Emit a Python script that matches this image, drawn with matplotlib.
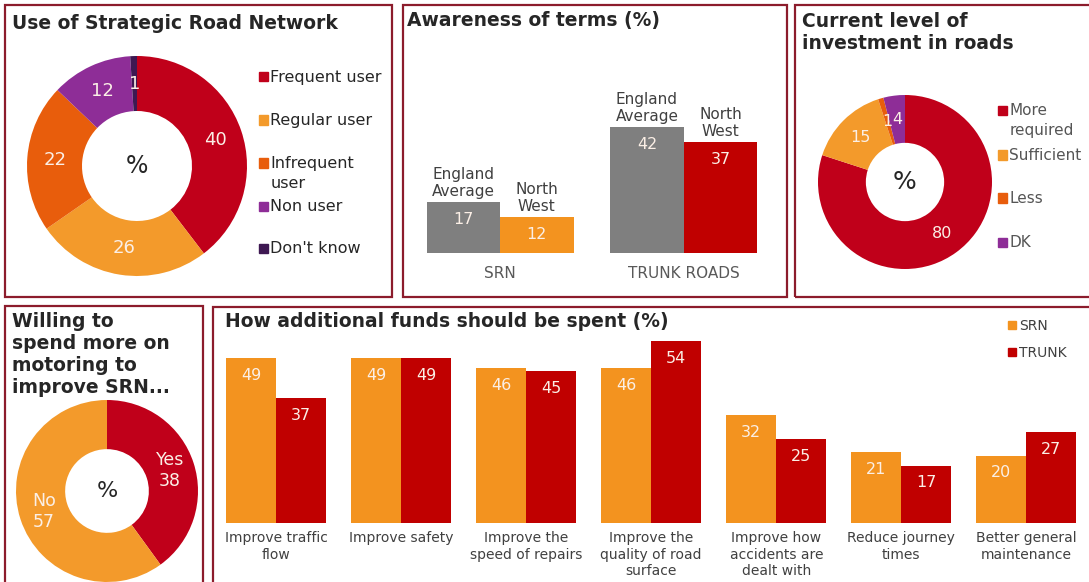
import matplotlib.pyplot as plt
import numpy as np
from matplotlib.patches import Rectangle

# canvas size in pixels (dpi 100)
W, H = 1089, 582

# Use of Strategic Road Network
use_labels = ["Frequent user", "Regular user", "Infrequent\nuser", "Non user", "Don't know"]
use_values = [40, 26, 22, 12, 1]

# Awareness of terms (%)
aware_groups = ["SRN", "TRUNK ROADS"]
aware_series = ["England\nAverage", "North\nWest"]
aware_england = [17, 42]
aware_northwest = [12, 37]

# Current level of investment in roads
invest_labels = ["More\nrequired", "Sufficient", "Less", "DK"]
invest_values = [80, 15, 1, 4]

# Willing to spend more on motoring
willing_labels = ["Yes", "No"]
willing_values = [38, 57]

# How additional funds should be spent (%)
fund_categories = [
    "Improve traffic\nflow",
    "Improve safety",
    "Improve the\nspeed of repairs",
    "Improve the\nquality of road\nsurface",
    "Improve how\naccidents are\ndealt with",
    "Reduce journey\ntimes",
    "Better general\nmaintenance",
]
fund_series = ["SRN", "TRUNK"]
fund_srn = [49, 49, 46, 46, 32, 21, 20]
fund_trunk = [37, 49, 45, 54, 25, 17, 27]

RED = "#C0001A"
ORANGE = "#F39A2B"
DARK_ORANGE = "#E85D0C"
PURPLE = "#8E2D97"
DARK_PURPLE = "#3E1852"
GREY = "#7F7F7F"
BAR_ORANGE = "#F3931F"
BAR_RED = "#C00000"
BORDER = "#8C1C2C"
TEXT = "#262626"
LABEL = "#FBEFE6"

plt.rcParams["font.family"] = "DejaVu Sans"

fig = plt.figure(figsize=(W / 100, H / 100), dpi=100)


def axes_px(left, top, right, bottom):
    return fig.add_axes([left / W, 1 - bottom / H, (right - left) / W, (bottom - top) / H])


def panel(left, top, right, bottom):
    fig.patches.append(Rectangle((left / W, 1 - bottom / H), (right - left) / W,
                                 (bottom - top) / H, transform=fig.transFigure,
                                 fill=False, edgecolor=BORDER, linewidth=1.6))


def lines_px(x, y, text, step, **kw):
    # one text per line so the first baseline sits at y
    for i, line in enumerate(text.split("\n")):
        fig.text(x / W, 1 - (y + i * step) / H, line, ha="left", va="baseline", **kw)


def title(x, y, text, size=13.5):
    lines_px(x, y, text, 22, fontsize=size, fontweight="bold", color=TEXT)


def square_legend(x, ys, labels, colors, fontsize, color=TEXT, size=9, step=20):
    for y, lab, c in zip(ys, labels, colors):
        fig.patches.append(Rectangle(((x - size / 2) / W, 1 - (y + size / 2) / H),
                                     size / W, size / H, transform=fig.transFigure,
                                     color=c))
        lines_px(x + size / 2 + 3, y + 5, lab, step, fontsize=fontsize, color=color)


def donut(cx, cy, r, values, colors, hole, pct_size):
    pad = 1.02
    ax = axes_px(cx - r * pad, cy - r * pad, cx + r * pad, cy + r * pad)
    wedges, _ = ax.pie(values, colors=colors, startangle=90, counterclock=False,
                       radius=1, wedgeprops=dict(width=1 - hole, linewidth=0))
    ax.set_xlim(-pad, pad)
    ax.set_ylim(-pad, pad)
    ax.text(0, 0, "%", ha="center", va="center", fontsize=pct_size, color=TEXT)
    return ax, wedges


def wedge_labels(ax, wedges, texts, hole, size):
    rmid = (1 + hole) / 2
    for w, t in zip(wedges, texts):
        ang = np.deg2rad((w.theta1 + w.theta2) / 2)
        ax.text(rmid * np.cos(ang), rmid * np.sin(ang), t, ha="center", va="center",
                fontsize=size, color=LABEL, linespacing=1.2)


# --- Use of Strategic Road Network ---
panel(5, 5, 392, 297)
title(12, 29, "Use of Strategic Road Network")
use_colors = [RED, ORANGE, DARK_ORANGE, PURPLE, DARK_PURPLE]
ax1, w1 = donut(137, 166, 110, use_values, use_colors, 0.5, 17)
wedge_labels(ax1, w1, [str(v) for v in use_values], 0.5, 13)
square_legend(263, [77, 120, 163, 206, 248], use_labels, use_colors, 11.5)

# --- Awareness of terms ---
panel(403, 5, 787, 297)
title(407, 26, "Awareness of terms (%)")
ax2 = axes_px(410, 73, 780, 253)
x = np.arange(len(aware_groups))
bw = 0.4
b_eng = ax2.bar(x - bw / 2, aware_england, bw, color=GREY, linewidth=0)
b_nw = ax2.bar(x + bw / 2, aware_northwest, bw, color=[BAR_ORANGE, BAR_RED], linewidth=0)
for bars, name in [(b_eng, aware_series[0]), (b_nw, aware_series[1])]:
    for b in bars:
        h = b.get_height()
        xc = b.get_x() + b.get_width() / 2
        ax2.annotate(name, (xc, h), xytext=(0, 2), textcoords="offset points",
                     ha="center", va="bottom", fontsize=11, color="#404040",
                     linespacing=1.15)
        ax2.annotate(f"{h:.0f}", (xc, h), xytext=(0, -7), textcoords="offset points",
                     ha="center", va="top", fontsize=11.5, color=LABEL)
ax2.set_xlim(-0.49, 1.524)
ax2.set_ylim(0, 60)
ax2.set_xticks(x)
ax2.set_xticklabels(aware_groups)
ax2.tick_params(axis="x", length=0, pad=9, labelsize=11, labelcolor="#595959")
ax2.set_yticks([])
for s in ax2.spines.values():
    s.set_visible(False)

# --- Current level of investment in roads ---
panel(795, 5, 1095, 297)
title(802, 27, "Current level of\ninvestment in roads")
invest_colors = [RED, ORANGE, DARK_ORANGE, PURPLE]
ax3, w3 = donut(905, 182, 87, invest_values, invest_colors, 0.45, 18)
wedge_labels(ax3, w3, [str(v) for v in invest_values], 0.45, 11.5)
square_legend(1002, [110, 155, 198, 242], invest_labels, invest_colors, 11,
              color="#555555")

# --- Willing to spend more ---
panel(5, 306, 203, 600)
title(12, 327, "Willing to\nspend more on\nmotoring to\nimprove SRN...")
ax4, w4 = donut(107, 491, 91, willing_values, [RED, ORANGE], 0.46, 16)
wedge_labels(ax4, w4, [f"{l}\n{v}" for l, v in zip(willing_labels, willing_values)],
             0.46, 12.5)

# --- How additional funds should be spent ---
panel(213, 307, 1095, 600)
title(225, 327, "How additional funds should be spent (%)")
ax5 = axes_px(215, 330, 1085, 523)
x5 = np.arange(len(fund_categories))
b_srn = ax5.bar(x5 - bw / 2, fund_srn, bw, color=BAR_ORANGE, linewidth=0)
b_trk = ax5.bar(x5 + bw / 2, fund_trunk, bw, color=BAR_RED, linewidth=0)
for bars in (b_srn, b_trk):
    for b in bars:
        h = b.get_height()
        ax5.annotate(f"{h:.0f}", (b.get_x() + b.get_width() / 2, h), xytext=(0, -7),
                     textcoords="offset points", ha="center", va="top",
                     fontsize=11.5, color=LABEL)
ax5.set_xlim(-0.49, 6.47)
ax5.set_ylim(0, 57.3)
ax5.set_xticks(x5)
ax5.set_xticklabels(fund_categories, linespacing=1.22)
ax5.tick_params(axis="x", length=0, pad=6, labelsize=10, labelcolor="#404040")
ax5.set_yticks([])
for s in ax5.spines.values():
    s.set_visible(False)
square_legend(1012, [325, 352], fund_series, [BAR_ORANGE, BAR_RED], 10,
              color="#404040", size=8)

fig.savefig("out.png", dpi=100)
